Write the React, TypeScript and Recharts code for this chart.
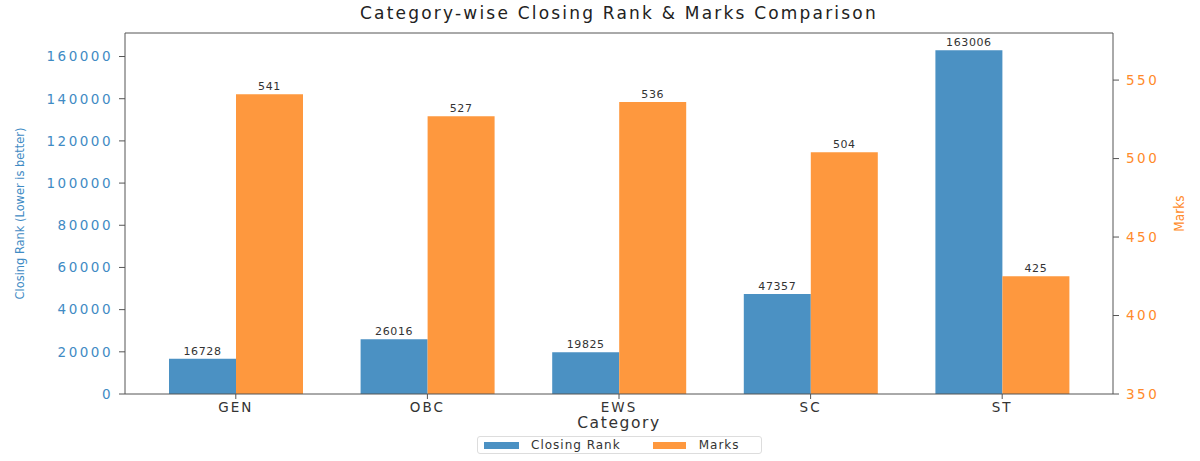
import React from 'react';
import { BarChart, Bar, XAxis, YAxis, LabelList, ReferenceLine, Legend } from 'recharts';

const categories = ['GEN', 'OBC', 'EWS', 'SC', 'ST'];
const closingRank = [16728, 26016, 19825, 47357, 163006];
const marks = [541, 527, 536, 504, 425];
const rankTicks = [0, 20000, 40000, 60000, 80000, 100000, 120000, 140000, 160000];
const marksTicks = [350, 400, 450, 500, 550];
const RANK_MAX = 171156;
const MARKS_DOMAIN = [350, 580];

const BLUE = '#4b91c3';
const ORANGE = '#fe983e';
const BLUE_TEXT = '#3f8bc4';
const ORANGE_TEXT = '#ff8a2a';
const FONT = '"DejaVu Sans", sans-serif';
const NARROW = '"DejaVu Sans Condensed", "Liberation Sans Narrow", sans-serif';

const data = categories.map((c, i) => ({ category: c, rank: closingRank[i], marks: marks[i] }));

const LegendContent = () => (
  <div style={{
    display: 'flex', alignItems: 'center', border: '1px solid #ddd', borderRadius: 3,
    height: 18, width: 285, boxSizing: 'border-box', fontFamily: FONT, fontSize: 12,
    color: '#333', letterSpacing: 1, background: '#fff'
  }}>
    <span style={{ display: 'inline-block', width: 35, height: 7, background: BLUE, marginLeft: 6 }} />
    <span style={{ marginLeft: 12 }}>Closing Rank</span>
    <span style={{ display: 'inline-block', width: 33, height: 7, background: ORANGE, marginLeft: 32 }} />
    <span style={{ marginLeft: 13 }}>Marks</span>
  </div>
);

export default function App() {
  return (
    <div style={{ position: 'absolute', left: 0, top: 0, width: 1200, height: 461, background: '#fff' }}>
      <div style={{
        position: 'absolute', left: 0, width: 1238, top: 3, textAlign: 'center',
        fontFamily: FONT, fontSize: 17, letterSpacing: 2.2, color: '#222'
      }}>
        Category-wise Closing Rank &amp; Marks Comparison
      </div>
      <BarChart
        width={1200}
        height={461}
        data={data}
        margin={{ top: 33, right: 0, bottom: 0, left: 0 }}
        barGap={0}
        barSize={67}
      >
        <XAxis
          dataKey="category"
          padding={{ left: 15, right: 15 }}
          height={67}
          stroke="#555"
          tickSize={5}
          tickMargin={3}
          tick={{ fill: '#333', fontSize: 13.5, fontFamily: FONT, letterSpacing: 2 }}
          label={({ viewBox }: any) => (
            <text x={viewBox.x + viewBox.width / 2} y={428} textAnchor="middle"
              fill="#333" fontSize={15.5} fontFamily={FONT} letterSpacing={1.6}>Category</text>
          )}
        />
        <YAxis
          yAxisId="left"
          orientation="left"
          width={125}
          domain={[0, RANK_MAX]}
          ticks={rankTicks}
          stroke="#555"
          tickSize={6}
          tickMargin={6}
          interval={0}
          tick={{ fill: BLUE_TEXT, fontSize: 13.5, fontFamily: FONT, letterSpacing: 2.5 }}
          label={({ viewBox }: any) => {
            const cy = viewBox.y + viewBox.height / 2;
            return (
              <text x={24} y={cy} textAnchor="middle" transform={`rotate(-90, 24, ${cy})`}
                fill={BLUE_TEXT} fontSize={12.7} fontFamily={NARROW}>Closing Rank (Lower is better)</text>
            );
          }}
        />
        <YAxis
          yAxisId="right"
          orientation="right"
          width={87}
          domain={MARKS_DOMAIN}
          ticks={marksTicks}
          stroke="#555"
          tickSize={6}
          tickMargin={7}
          interval={0}
          tick={{ fill: ORANGE_TEXT, fontSize: 13.5, fontFamily: FONT, letterSpacing: 2.5 }}
          label={({ viewBox }: any) => {
            const cy = viewBox.y + viewBox.height / 2;
            return (
              <text x={1184} y={cy} textAnchor="middle" transform={`rotate(-90, 1184, ${cy})`}
                fill={ORANGE_TEXT} fontSize={13.5} fontFamily={NARROW}>Marks</text>
            );
          }}
        />
        <ReferenceLine yAxisId="left" y={RANK_MAX} stroke="#555" />
        <Bar yAxisId="left" dataKey="rank" name="Closing Rank" fill={BLUE} isAnimationActive={false}>
          <LabelList dataKey="rank" position="top" offset={4} fill="#333" fontSize={11} fontFamily={FONT} letterSpacing={0.6} />
        </Bar>
        <Bar yAxisId="right" dataKey="marks" name="Marks" fill={ORANGE} isAnimationActive={false}>
          <LabelList dataKey="marks" position="top" offset={4} fill="#333" fontSize={11} fontFamily={FONT} letterSpacing={0.6} />
        </Bar>
        <Legend
          layout="horizontal"
          verticalAlign="middle"
          align="center"
          content={<LegendContent />}
          wrapperStyle={{ position: 'absolute', left: 477, top: 436, width: 285, height: 18 }}
        />
      </BarChart>
    </div>
  );
}
